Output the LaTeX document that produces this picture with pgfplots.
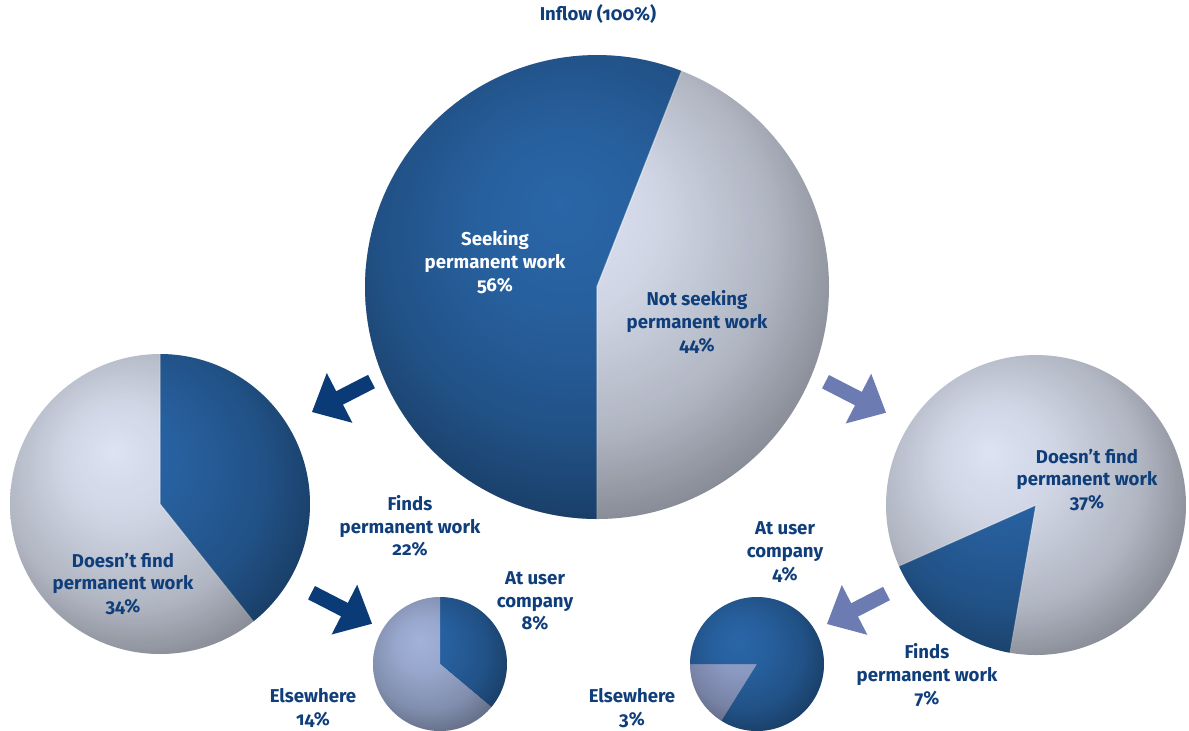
\documentclass[border=0pt]{standalone}
\usepackage{fontspec}
\setmainfont{Fira Sans}[Numbers=OldStyle]
\usepackage{pgfplots}
\pgfplotsset{compat=1.18}
\definecolor{navy}{HTML}{0F3E7A}
\definecolor{dk}{HTML}{2A66A8}
\definecolor{lt}{HTML}{DDE3F3}
\definecolor{ltb}{HTML}{A2B2DA}
\definecolor{ltc}{HTML}{95A3CE}
\definecolor{arrdk}{HTML}{0B3B77}
\definecolor{arrlt}{HTML}{6C7CB2}
\pgfdeclareradialshading{sphere}{\pgfpoint{-8bp}{9bp}}{color(0bp)=(white); color(10bp)=(white!94!black); color(22bp)=(white!80!black); color(30bp)=(white!62!black); color(36bp)=(white!50!black); color(50bp)=(white!50!black)}
\pgfdeclareradialshading{spherebig}{\pgfpoint{-4bp}{9bp}}{color(0bp)=(white); color(10bp)=(white!94!black); color(21bp)=(white!80!black); color(29bp)=(white!62!black); color(35bp)=(white!50!black); color(50bp)=(white!50!black)}
\newcommand\lab[3]{\node[font=\bfseries\fontsize{9.3}{11.4}\selectfont, text=#3, align=center, inner sep=0pt] at (axis cs:#1) {#2};}
\begin{document}
\begin{tikzpicture}
\begin{axis}[
  width=594.5pt, height=365pt, scale only axis,
  xmin=0, xmax=1189, ymin=0, ymax=730, y dir=reverse,
  hide axis, clip=false,
  every axis plot/.append style={draw=none, samples=90, variable=\t}
]
% ---- big pie: centre (597,287), r 232 ----
\addplot[fill=dk, domain=68.6:270] ({597+232*cos(t)}, {287-232*sin(t)}) -- (axis cs:597,287) -- cycle;
\addplot[fill=lt, domain=-90:68.6] ({597+232*cos(t)}, {287-232*sin(t)}) -- (axis cs:597,287) -- cycle;
% ---- left pie: centre (160,504), r 150 ----
\addplot[fill=dk, domain=-51.5:90] ({160+150*cos(t)}, {504-150*sin(t)}) -- (axis cs:160,504) -- cycle;
\addplot[fill=lt, domain=90:308.5] ({160+150*cos(t)}, {504-150*sin(t)}) -- (axis cs:160,504) -- cycle;
% ---- right pie: centre (1036,505), r 150 ----
\addplot[fill=dk, domain=204:260] ({1036+150*cos(t)}, {505-150*sin(t)}) -- (axis cs:1036,505) -- cycle;
\addplot[fill=lt, domain=-100:204] ({1036+150*cos(t)}, {505-150*sin(t)}) -- (axis cs:1036,505) -- cycle;
% ---- small left pie: centre (440,664), r 67 ----
\addplot[fill=dk, domain=-40:90] ({440+67*cos(t)}, {664-67*sin(t)}) -- (axis cs:440,664) -- cycle;
\addplot[fill=ltb, domain=90:320] ({440+67*cos(t)}, {664-67*sin(t)}) -- (axis cs:440,664) -- cycle;
% ---- small right pie: centre (757,664), r 67 ----
\addplot[fill=ltc, domain=180:238] ({757+67*cos(t)}, {664-67*sin(t)}) -- (axis cs:757,664) -- cycle;
\addplot[fill=dk, domain=238:540] ({757+67*cos(t)}, {664-67*sin(t)}) -- (axis cs:757,664) -- cycle;
% slice separators (light edge)
\draw[white, opacity=0.55, line width=0.7pt] (axis cs:681.7,71.0) -- (axis cs:597,287) -- (axis cs:597,519);
\draw[white, opacity=0.45, line width=0.6pt] (axis cs:160,354) -- (axis cs:160,504) -- (axis cs:253.4,621.4);
\draw[white, opacity=0.45, line width=0.6pt] (axis cs:899.0,566.0) -- (axis cs:1036,505) -- (axis cs:1010.0,652.7);
% sphere shading
\shade[shading=spherebig, blend mode=multiply] (axis cs:597,287) circle[radius=232];
\shade[shading=sphere, blend mode=multiply] (axis cs:160,504) circle[radius=150];
\shade[shading=sphere, blend mode=multiply] (axis cs:1036,505) circle[radius=150];
\shade[shading=sphere, blend mode=multiply] (axis cs:440,664) circle[radius=67];
\shade[shading=sphere, blend mode=multiply] (axis cs:757,664) circle[radius=67];
% arrows
\fill[arrdk] (axis cs:368.1,374.8) -- (axis cs:336.2,391.2) -- (axis cs:326.8,373.0) -- (axis cs:312,412) -- (axis cs:352.4,422.8) -- (axis cs:343.0,404.6) -- (axis cs:374.9,388.2) -- cycle;
\fill[arrlt] (axis cs:828.9,375.0) -- (axis cs:861.8,391.9) -- (axis cs:871.2,373.7) -- (axis cs:886,412.7) -- (axis cs:845.6,423.5) -- (axis cs:855.0,405.3) -- (axis cs:822.1,388.4) -- cycle;
\fill[arrdk] (axis cs:314.9,586.0) -- (axis cs:347.8,602.9) -- (axis cs:357.2,584.7) -- (axis cs:372,623.7) -- (axis cs:331.6,634.5) -- (axis cs:341.0,616.3) -- (axis cs:308.1,599.4) -- cycle;
\fill[arrlt] (axis cs:883.1,586.8) -- (axis cs:851.2,603.2) -- (axis cs:841.8,585.0) -- (axis cs:827,624) -- (axis cs:867.4,634.8) -- (axis cs:858.0,616.6) -- (axis cs:889.9,600.2) -- cycle;
% labels
\lab{598,14}{Inflow (100\%)}{navy}
\lab{495,262}{Seeking\\permanent work\\56\%}{white}
\lab{697,322}{Not seeking\\permanent work\\44\%}{navy}
\lab{123,584}{Doesn’t find\\permanent work\\34\%}{navy}
\lab{410,526}{Finds\\permanent work\\22\%}{navy}
\lab{535,601}{At user\\company\\8\%}{navy}
\lab{313,708}{Elsewhere\\14\%}{navy}
\lab{1087,480}{Doesn’t find\\permanent work\\37\%}{navy}
\lab{785,552}{At user\\company\\4\%}{navy}
\lab{927,675}{Finds\\permanent work\\7\%}{navy}
\lab{632,708}{Elsewhere\\3\%}{navy}
\end{axis}
\pgfresetboundingbox
\useasboundingbox (current axis.south west) rectangle (current axis.north east);
\end{tikzpicture}
\end{document}
